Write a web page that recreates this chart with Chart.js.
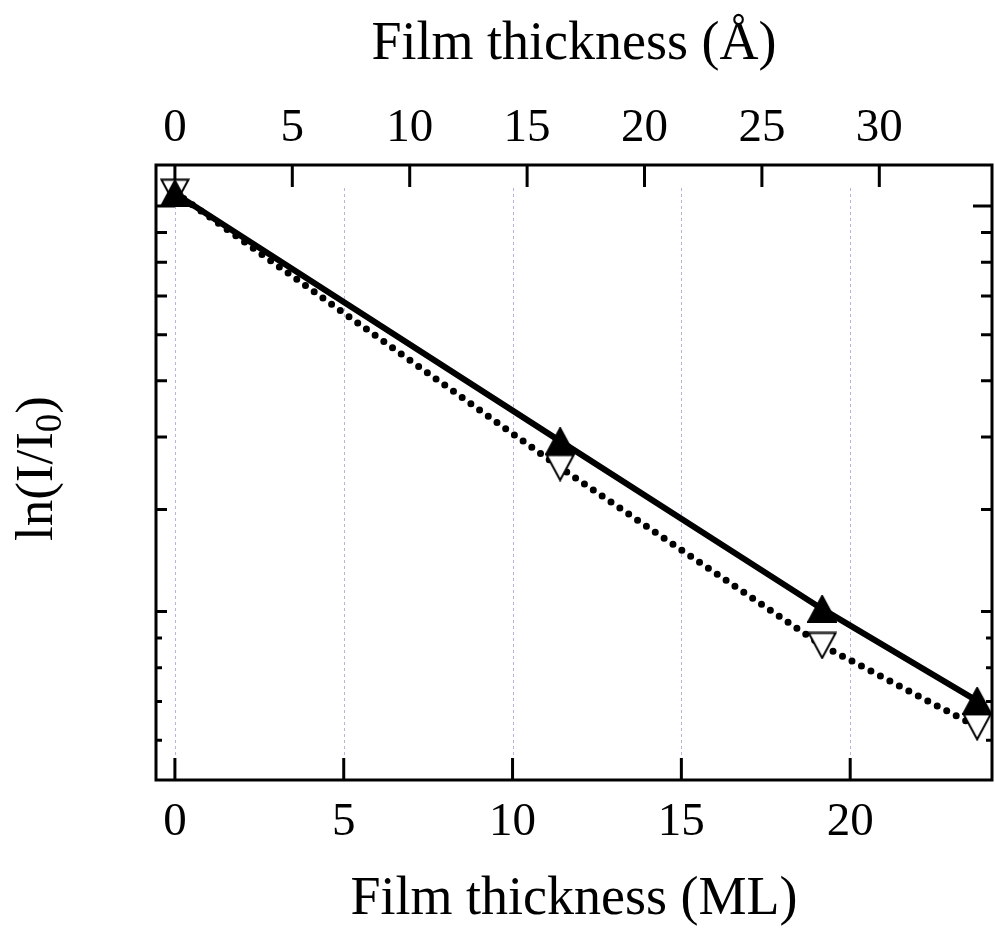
<!DOCTYPE html>
<html>
<head>
<meta charset="utf-8">
<script src="https://cdn.jsdelivr.net/npm/chart.js@4.4.1/dist/chart.umd.min.js"></script>
<style>
  html, body { margin: 0; padding: 0; background: #fff; }
  #wrap { width: 995px; height: 938px; }
</style>
</head>
<body>
<div id="wrap"><canvas id="chart" width="995" height="938"></canvas></div>
<script>
// ===== Data =====
const thicknessML = [0, 11.41, 19.17, 23.76];
const lnFilled = [0.050, -0.933, -1.599, -1.964];   // filled up-triangles, solid line
const lnOpen = [0.055, -1.038, -1.744, -2.067];     // open down-triangles, dotted line

// axis ranges / tick values
const mlMin = -0.56, mlMax = 24.2;
const angPerML = 1.438;
const yMin = -2.278, yMax = 0.163;

const mlTicks = [0, 5, 10, 15, 20];
const angTicks = [0, 5, 10, 15, 20, 25, 30];
// y ticks are placed at I/I0 values on the ln axis
const ratioTicksLong = [1];
const ratioTicksMajor = [0.9, 0.8, 0.7, 0.6, 0.5, 0.4, 0.3, 0.2];
const ratioTicksMinor = [0.18, 0.16, 0.14, 0.12];

Chart.defaults.font.family = "'Liberation Serif', 'Times New Roman', serif";
Chart.defaults.color = '#000';

// triangle markers centred on their bounding box
function makeTriangle(down, fill) {
    const w = 30, h = 28;
    const c = document.createElement('canvas');
    c.width = w; c.height = h;
    const g = c.getContext('2d');
    g.beginPath();
    if (down) {
        g.moveTo(1.5, 1.5); g.lineTo(w - 1.5, 1.5); g.lineTo(w / 2, h - 1.5);
    } else {
        g.moveTo(w / 2, 1); g.lineTo(w - 1, h - 1); g.lineTo(1, h - 1);
    }
    g.closePath();
    g.fillStyle = fill;
    g.fill();
    g.lineWidth = 2;
    g.strokeStyle = '#000';
    g.stroke();
    return c;
}

const frame = {
    id: 'frame',
    beforeDatasetsDraw(chart) {
        const { ctx, chartArea: a, scales } = chart;
        ctx.save();

        // dotted vertical grid at the ML ticks
        ctx.strokeStyle = '#b4b5de';
        ctx.lineWidth = 1;
        ctx.setLineDash([3, 3]);
        mlTicks.forEach(v => {
            const x = Math.round(scales.x.getPixelForValue(v)) + 0.5;
            ctx.beginPath();
            ctx.moveTo(x, a.top + 23);
            ctx.lineTo(x, a.bottom - 22);
            ctx.stroke();
        });
        ctx.setLineDash([]);

        // inward ticks
        ctx.strokeStyle = '#000';
        ctx.lineWidth = 3;
        ctx.beginPath();
        mlTicks.forEach(v => {
            const x = scales.x.getPixelForValue(v);
            ctx.moveTo(x, a.bottom); ctx.lineTo(x, a.bottom - 22);
        });
        angTicks.forEach(v => {
            const x = scales.x2.getPixelForValue(v);
            ctx.moveTo(x, a.top); ctx.lineTo(x, a.top + 22);
        });
        const yTick = (list, len) => list.forEach(r => {
            const y = scales.y.getPixelForValue(Math.log(r));
            ctx.moveTo(a.left, y); ctx.lineTo(a.left + len, y);
            ctx.moveTo(a.right, y); ctx.lineTo(a.right - len, y);
        });
        yTick(ratioTicksLong, 19);
        yTick(ratioTicksMajor, 11);
        yTick(ratioTicksMinor, 6);
        ctx.stroke();

        // frame
        ctx.lineWidth = 3;
        ctx.strokeRect(a.left, a.top, a.right - a.left, a.bottom - a.top);

        // y title with subscript
        ctx.translate(52, (a.top + a.bottom) / 2 - 4);
        ctx.rotate(-Math.PI / 2);
        ctx.fillStyle = '#000';
        ctx.textBaseline = 'alphabetic';
        const big = "53px 'Liberation Serif'";
        const small = "37px 'Liberation Serif'";
        ctx.font = big;
        const w1 = ctx.measureText('ln(I/I').width;
        const w3 = ctx.measureText(')').width;
        ctx.font = small;
        const w2 = ctx.measureText('0').width;
        let x = -(w1 + w2 + w3) / 2;
        ctx.font = big;
        ctx.fillText('ln(I/I', x, 0);
        x += w1;
        ctx.font = small;
        ctx.fillText('0', x, 9);
        x += w2;
        ctx.font = big;
        ctx.fillText(')', x, 0);

        ctx.restore();
    }
};

new Chart(document.getElementById('chart'), {
    type: 'line',
    data: {
        datasets: [
            {
                label: 'filled',
                data: thicknessML.map((x, i) => ({ x, y: lnFilled[i] })),
                borderColor: '#000',
                borderWidth: 6,
                pointStyle: makeTriangle(false, '#000'),
                pointRadius: 14,
                xAxisID: 'x',
                clip: false
            },
            {
                label: 'open',
                data: thicknessML.map((x, i) => ({ x, y: lnOpen[i] })),
                borderColor: '#000',
                borderWidth: 7,
                borderDash: [0, 10.7],
                borderCapStyle: 'round',
                pointStyle: makeTriangle(true, '#fff'),
                pointRadius: 14,
                xAxisID: 'x',
                clip: false
            }
        ]
    },
    options: {
        responsive: false,
        animation: false,
        events: [],
        layout: { autoPadding: false, padding: { left: 0, right: 3, top: 0, bottom: 0 } },
        plugins: {
            legend: { display: false },
            tooltip: { enabled: false }
        },
        scales: {
            x: {
                type: 'linear',
                position: 'bottom',
                min: mlMin,
                max: mlMax,
                afterBuildTicks: s => { s.ticks = mlTicks.map(v => ({ value: v })); },
                ticks: { color: '#000', font: { size: 47 }, padding: 14, maxRotation: 0 },
                grid: { display: false, drawTicks: false },
                border: { display: false },
                title: {
                    display: true,
                    text: 'Film thickness (ML)',
                    color: '#000',
                    font: { size: 54 },
                    padding: { top: 0, bottom: 6 }
                },
                afterFit: s => { s.height = 158; }
            },
            x2: {
                type: 'linear',
                position: 'top',
                min: mlMin * angPerML,
                max: mlMax * angPerML,
                afterBuildTicks: s => { s.ticks = angTicks.map(v => ({ value: v })); },
                ticks: { color: '#000', font: { size: 47 }, padding: 8, maxRotation: 0 },
                grid: { display: false, drawTicks: false },
                border: { display: false },
                title: {
                    display: true,
                    text: 'Film thickness (Å)',
                    color: '#000',
                    font: { size: 54 },
                    padding: { top: 12, bottom: 0 }
                },
                afterFit: s => { s.height = 165; }
            },
            y: {
                type: 'linear',
                min: yMin,
                max: yMax,
                ticks: { display: false },
                grid: { display: false, drawTicks: false },
                border: { display: false },
                afterFit: s => { s.width = 156; }
            }
        }
    },
    plugins: [frame]
});
</script>
</body>
</html>
